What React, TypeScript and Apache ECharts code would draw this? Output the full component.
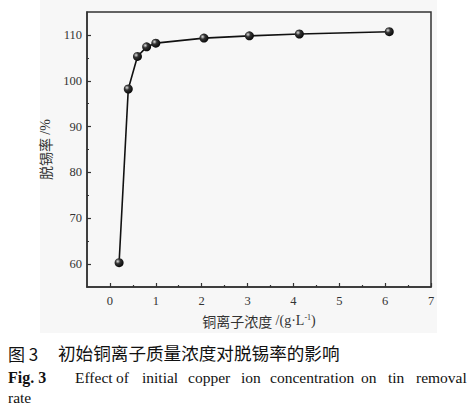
import React, { useEffect, useRef } from 'react';
import * as echarts from 'echarts';

// 铜离子浓度 (g/L) 与 脱锡率 (%)
const concentration = [0.2, 0.4, 0.6, 0.8, 1.0, 2.05, 3.04, 4.13, 6.09];
const removalRate = [60.3, 98.2, 105.3, 107.4, 108.2, 109.3, 109.8, 110.2, 110.7];

const xMajorTicks = [0, 1, 2, 3, 4, 5, 6, 7];
const xMinorTicks = [0.5, 1.5, 2.5, 3.5, 4.5, 5.5, 6.5];
const yMajorTicks = [60, 70, 80, 90, 100, 110];
const yMinorTicks = [65, 75, 85, 95, 105];

const captionCn = '初始铜离子质量浓度对脱锡率的影响';
const captionEnWords = ['Effect', 'of', 'initial', 'copper', 'ion', 'concentration', 'on', 'tin', 'removal'];
const captionEnX = [75, 116, 142, 188, 241, 270, 361, 388, 416];

const serif = 'Liberation Serif';
const cjk = 'Noto Sans CJK SC';

const App: React.FC = () => {
  const chartRef = useRef<HTMLDivElement>(null);

  useEffect(() => {
    if (!chartRef.current) return;
    document.body.style.margin = '0';
    const chart = echarts.init(chartRef.current, null, { renderer: 'svg' });

    const tickLabel = { fontFamily: serif, fontSize: 12.5, color: '#333' };
    const tickLine = { color: '#333', width: 1.2 };

    const option: echarts.EChartsOption = {
      animation: false,
      backgroundColor: '#fff',
      grid: {
        left: 87,
        right: 45,
        top: 12,
        bottom: 125,
        show: true,
        borderColor: '#333',
        borderWidth: 1.5,
        backgroundColor: 'transparent',
      },
      xAxis: [
        {
          type: 'value',
          min: -0.5,
          max: 7,
          axisLine: { show: true, onZero: false, lineStyle: { color: '#333', width: 1.5 } },
          axisTick: { show: true, inside: true, length: 4, customValues: xMajorTicks, lineStyle: tickLine },
          axisLabel: { ...tickLabel, margin: 7, customValues: xMajorTicks },
          splitLine: { show: false },
          name: '{a|铜离子浓度} {b|/(g·L}{sup|-1}{b|)}',
          nameLocation: 'middle',
          nameGap: 26,
          nameTextStyle: {
            rich: {
              a: { fontFamily: cjk, fontSize: 14, color: '#333' },
              b: { fontFamily: serif, fontSize: 14, color: '#333' },
              sup: { fontFamily: serif, fontSize: 8, color: '#333', padding: [0, 0, 7, 0] },
            },
          },
        },
        {
          type: 'value',
          min: -0.5,
          max: 7,
          position: 'bottom',
          axisLine: { show: false, onZero: false },
          axisTick: { show: true, inside: true, length: 2, customValues: xMinorTicks, lineStyle: tickLine },
          axisLabel: { show: false },
          splitLine: { show: false },
        },
      ],
      yAxis: [
        {
          type: 'value',
          min: 55,
          max: 115,
          axisLine: { show: true, onZero: false, lineStyle: { color: '#333', width: 1.5 } },
          axisTick: { show: true, inside: true, length: 4, customValues: yMajorTicks, lineStyle: tickLine },
          axisLabel: { ...tickLabel, margin: 5, customValues: yMajorTicks },
          splitLine: { show: false },
          name: '{a|脱锡率} {b|/%}',
          nameLocation: 'middle',
          nameGap: 27,
          nameTextStyle: {
            rich: {
              a: { fontFamily: cjk, fontSize: 14, color: '#333' },
              b: { fontFamily: serif, fontSize: 14, color: '#333' },
            },
          },
        },
        {
          type: 'value',
          min: 55,
          max: 115,
          position: 'left',
          axisLine: { show: false, onZero: false },
          axisTick: { show: true, inside: true, length: 2, customValues: yMinorTicks, lineStyle: tickLine },
          axisLabel: { show: false },
          splitLine: { show: false },
        },
      ],
      series: [
        {
          type: 'line',
          data: concentration.map((c, i) => [c, removalRate[i]]),
          symbol: 'circle',
          symbolSize: 9,
          lineStyle: { color: '#111', width: 1.6 },
          itemStyle: {
            color: {
              type: 'radial',
              x: 0.35,
              y: 0.35,
              r: 0.75,
              colorStops: [
                { offset: 0, color: '#e0e0e0' },
                { offset: 0.35, color: '#333' },
                { offset: 1, color: '#000' },
              ],
            },
          },
          z: 3,
        },
      ],
      graphic: [
        {
          type: 'rect',
          z: -10,
          shape: { x: 40, y: 0, width: 397, height: 333 },
          style: { fill: '#f7f7f7' },
          silent: true,
        },
        {
          type: 'text',
          x: 8,
          y: 345,
          style: { text: '图 3', fontFamily: cjk, fontSize: 17, fill: '#111' },
        },
        {
          type: 'text',
          x: 58,
          y: 344,
          style: { text: captionCn, fontFamily: cjk, fontSize: 17.6, fill: '#111' },
        },
        {
          type: 'text',
          x: 8,
          y: 369,
          style: { text: 'Fig. 3', fontFamily: serif, fontSize: 16, fontWeight: 'bold', fill: '#111' },
        },
        ...captionEnWords.map((w, i) => ({
          type: 'text' as const,
          x: captionEnX[i],
          y: 369,
          style: { text: w, fontFamily: serif, fontSize: 15.5, fill: '#111' },
        })),
        {
          type: 'text',
          x: 8,
          y: 389,
          style: { text: 'rate', fontFamily: serif, fontSize: 15.5, fill: '#111' },
        },
      ],
    };

    chart.setOption(option);
    return () => {
      chart.dispose();
    };
  }, []);

  return <div ref={chartRef} style={{ width: 476, height: 412 }} />;
};

export default App;
